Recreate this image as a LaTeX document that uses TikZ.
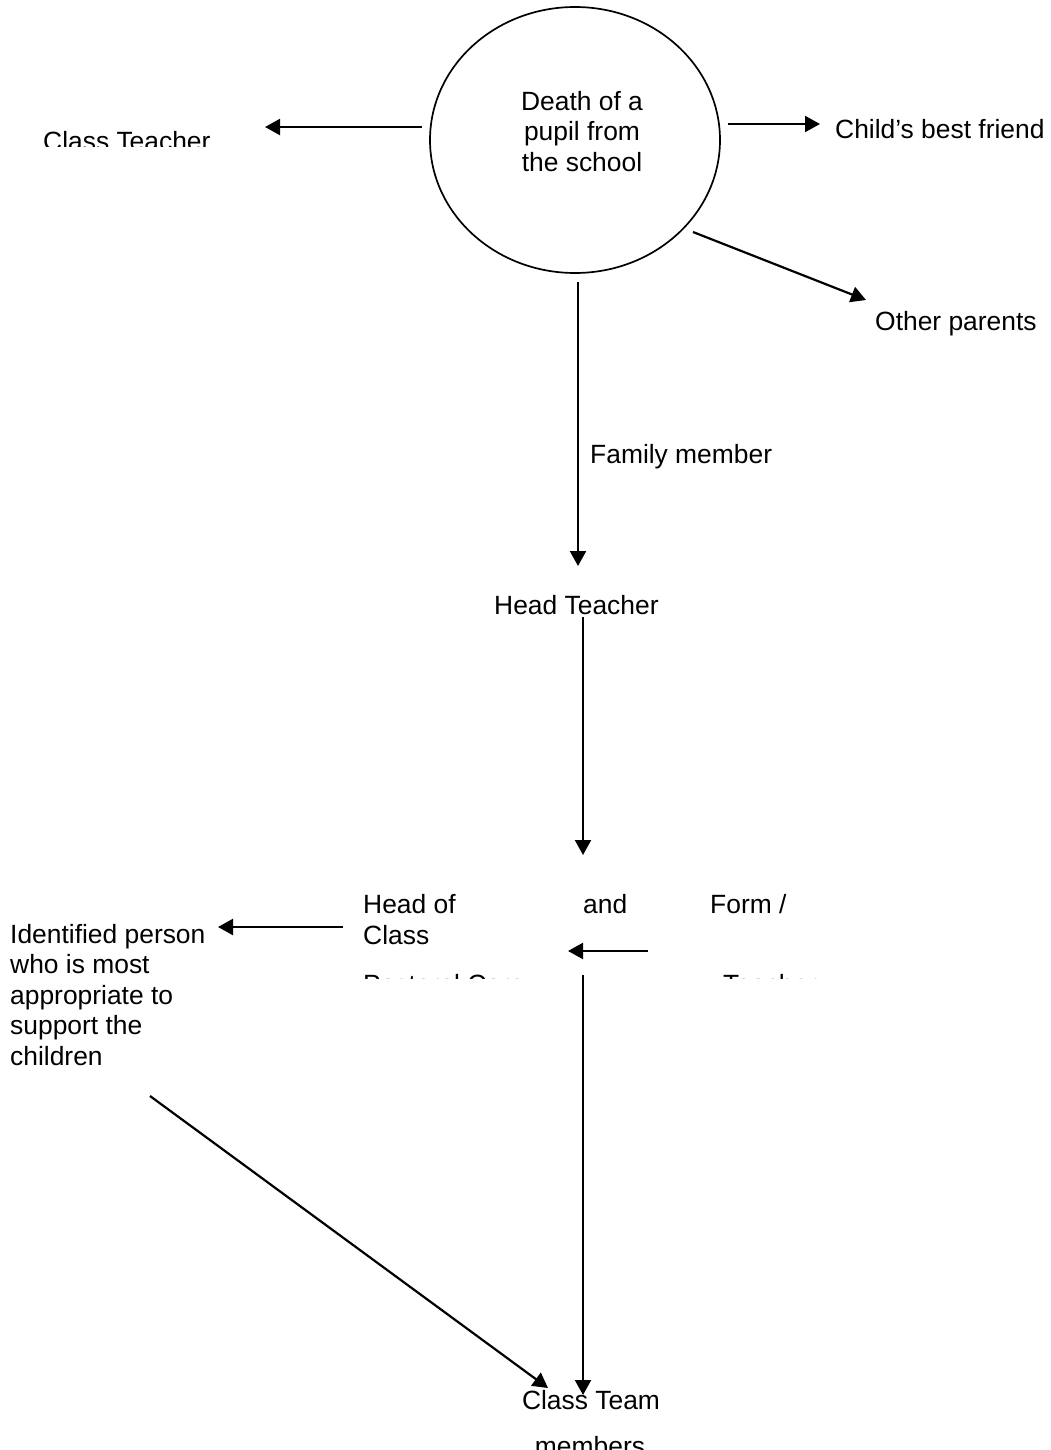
\documentclass[tikz,border=0pt]{standalone}
\usepackage{fontspec}
\setmainfont{Liberation Sans}
\usetikzlibrary{arrows.meta, shapes.geometric}

\tikzset{
  lbl/.style={font=\fontsize{26.4}{30.5}\selectfont, inner sep=0pt},
  arr/.style={-{Triangle[length=15pt,width=16pt]}, line width=2.2pt},
}

\begin{document}
\begin{tikzpicture}[x=1pt, y=-1pt]
    \clip (0,0) rectangle (1051,1450);
    % the event
    \node[draw, ellipse, line width=1.7pt, minimum width=290pt, minimum height=266pt] (death) at (575,140) {};
    \node[lbl, align=center, anchor=north] (deathtxt) at (582,91) {Death of a\\pupil from\\the school};
    % who is told
    \begin{scope}
        \clip (0,0) rectangle (1051,147);
        \node[lbl, anchor=base west] (classteacher) at (43,151) {Class Teacher};
    \end{scope}
    \node[lbl, anchor=base west] (friend) at (835,139) {Child's best friend};
    \node[lbl, anchor=base west] (parents) at (875,330) {Other parents};
    \node[lbl, anchor=base west] (family) at (590,463) {Family member};
    \node[lbl, anchor=base west] (head) at (494,614) {Head Teacher};
    \node[lbl, anchor=base west] (headof) at (363,913) {Head of};
    \node[lbl, anchor=base west] (class) at (363,944) {Class};
    \node[lbl, anchor=base west] (and) at (583,913) {and};
    \node[lbl, anchor=base west] (form) at (710,913) {Form /};
    \begin{scope}
        \clip (0,0) rectangle (1051,978);
        \node[lbl, anchor=base west] (pastoral) at (363,993) {Pastoral Care};
        \node[lbl, anchor=base west] (teacher) at (723,993) {Teacher};
    \end{scope}
    \node[lbl, align=left, anchor=north west] (person) at (10,924) {Identified person\\who is most\\appropriate to\\support the\\children};
    \node[lbl, anchor=base] (team) at (591,1409) {Class Team};
    \node[lbl, anchor=base] (members) at (590,1455) {members};
    % arrow ends
    \coordinate (death-w) at (422,127);
    \coordinate (classteacher-e) at (265,127);
    \coordinate (death-e) at (728,124);
    \coordinate (friend-w) at (820,124);
    \coordinate (death-se) at (693,232);
    \coordinate (parents-nw) at (866,300);
    \coordinate (death-s) at (578,282);
    \coordinate (head-n) at (578,566);
    \coordinate (head-s) at (583,617);
    \coordinate (and-n) at (583,855);
    \coordinate (headof-w) at (343,927);
    \coordinate (person-e) at (218,927);
    \coordinate (form-w) at (648,951);
    \coordinate (and-s) at (568,951);
    \coordinate (pastoral-s) at (583,975);
    \coordinate (team-n) at (583,1395);
    \coordinate (person-s) at (150,1096);
    \coordinate (team-nw) at (548,1388);
    % arrows
    \draw[arr] (death-w) -- (classteacher-e);
    \draw[arr] (death-e) -- (friend-w);
    \draw[arr] (death-se) -- (parents-nw);
    \draw[arr] (death-s) -- (head-n);
    \draw[arr] (head-s) -- (and-n);
    \draw[arr] (headof-w) -- (person-e);
    \draw[arr] (form-w) -- (and-s);
    \draw[arr] (pastoral-s) -- (team-n);
    \draw[arr] (person-s) -- (team-nw);
\end{tikzpicture}
\end{document}
